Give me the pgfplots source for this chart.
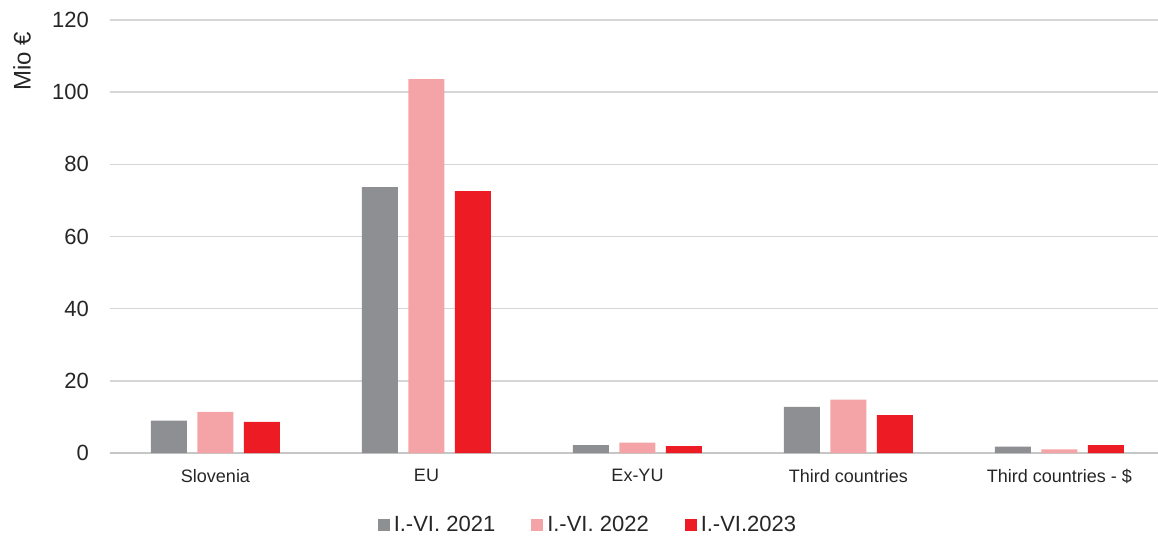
\documentclass[border=0pt]{standalone}
\usepackage{pgfplots}
\pgfplotsset{compat=1.18}
\usepackage{fontspec}
\setmainfont{Liberation Sans}
\definecolor{cgray}{HTML}{8E8F92}
\definecolor{cpink}{HTML}{F4A4A6}
\definecolor{cred}{HTML}{ED1C24}
\begin{document}
\begin{tikzpicture}
\begin{axis}[
  at={(0,0)}, anchor=south west,
  scale only axis, width=527.5pt, height=216.5pt,
  xmin=-0.5, xmax=4.5, ymin=0, ymax=120,
  ybar=5.25pt, bar width=18pt,
  xtick={0,1,2,3,4},
  xticklabels={Slovenia,EU,Ex-YU,Third countries,Third countries - \$},
  ytick={0,20,...,120},
  axis x line*=bottom, axis y line*=left,
  y axis line style={draw=none},
  x axis line style={draw=gray!45, line width=0.8pt},
  major tick length=0pt,
  ymajorgrids, grid style={gray!32, line width=0.8pt},
  /pgf/number format/assume math mode=true,
  yticklabel style={font=\fontsize{11}{13}\selectfont, xshift=-7pt, text=black!85},
  xticklabel style={font=\fontsize{9}{11}\selectfont, yshift=-4.5pt, text=black!85},
  ylabel={Mio €},
  ylabel style={at={(axis description cs:-0.0834,0.905)}, anchor=center,
    font=\fontsize{12}{14}\selectfont, text=black!85},
  legend columns=3,
  legend style={draw=none, at={(0.454,-0.166)}, anchor=center,
    font=\fontsize{11}{13}\selectfont, text=black!85,
    /tikz/every even column/.append style={column sep=16pt}},
  legend image code/.code={\fill[#1] (0pt,-3pt) rectangle (6pt,3pt);},
]
\addplot[fill=cgray, draw=none] coordinates {(0,9.0) (1,73.7) (2,2.2) (3,12.8) (4,1.8)};
\addplot[fill=cpink, draw=none] coordinates {(0,11.4) (1,103.6) (2,2.9) (3,14.8) (4,1.0)};
\addplot[fill=cred, draw=none] coordinates {(0,8.6) (1,72.6) (2,1.9) (3,10.5) (4,2.2)};
\legend{I.-VI. 2021, I.-VI. 2022, I.-VI.2023}
\end{axis}
\pgfresetboundingbox
\path[use as bounding box] (-55pt,-42pt) rectangle (524pt,226.5pt);
\end{tikzpicture}
\end{document}
